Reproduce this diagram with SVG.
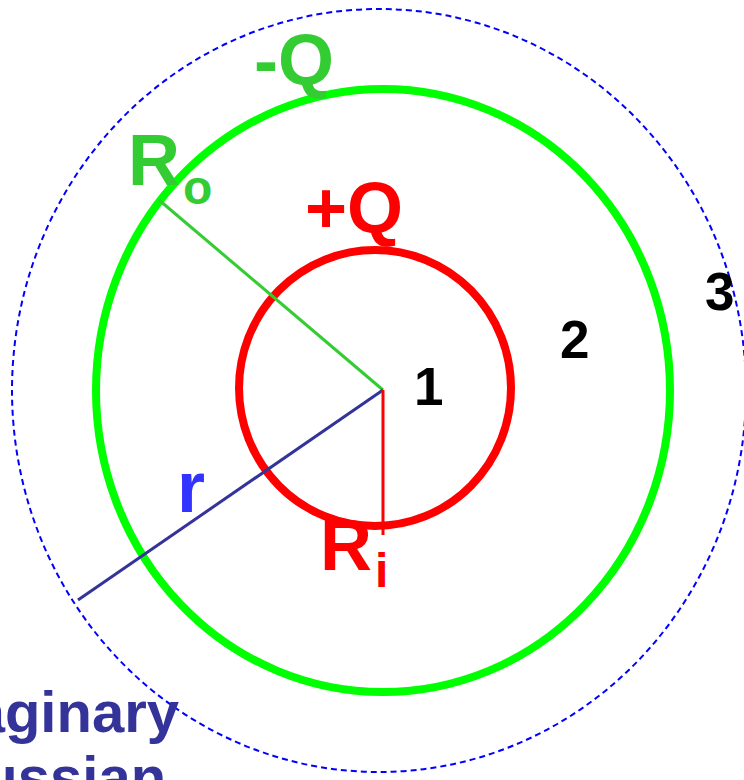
<svg xmlns="http://www.w3.org/2000/svg" width="744" height="780" viewBox="0 0 744 780">
<style>
text{font-family:"Liberation Sans",Arial,sans-serif;font-weight:bold}
.big{font-size:72px}
.sub{font-size:48px}
.num{font-size:53px;fill:#000}
.grn{fill:#33cc33}
.red{fill:#ff0000}
</style>
<rect width="744" height="780" fill="#fff"/>
<g id="gaussian-surface">
<ellipse cx="379" cy="390.5" rx="367" ry="381.5" fill="none" stroke="#0000ff" stroke-width="2" stroke-dasharray="6 4"/>
</g>
<g id="outer-shell">
<ellipse cx="383" cy="390.5" rx="287" ry="301.5" fill="none" stroke="#00ff00" stroke-width="8"/>
</g>
<g id="inner-shell">
<ellipse cx="375" cy="388" rx="136" ry="138" fill="none" stroke="#ff0000" stroke-width="8"/>
</g>
<g id="connectors">
<line x1="383" y1="390" x2="159" y2="200" stroke="#33cc33" stroke-width="3"/>
<line x1="383" y1="390" x2="78" y2="600" stroke="#333399" stroke-width="3"/>
<line x1="383" y1="390" x2="383" y2="535" stroke="#ff0000" stroke-width="3"/>
</g>
<g id="labels">
<text class="big grn" x="254" y="85">-Q</text>
<text class="big grn" x="128" y="185">R<tspan class="sub" dx="3" dy="19">o</tspan></text>
<text class="big red" x="305" y="233">+Q</text>
<text class="big red" x="320" y="570">R<tspan class="sub" dx="3" dy="17">i</tspan></text>
<text class="big" x="177" y="512" fill="#3333ff">r</text>
<text class="num" x="414" y="405">1</text>
<text class="num" x="560" y="358">2</text>
<text class="num" x="705" y="310">3</text>
<text x="-95" y="732" font-size="58" fill="#333399">Imaginary<tspan x="-95" y="797">Gaussian</tspan></text>
</g>
</svg>
